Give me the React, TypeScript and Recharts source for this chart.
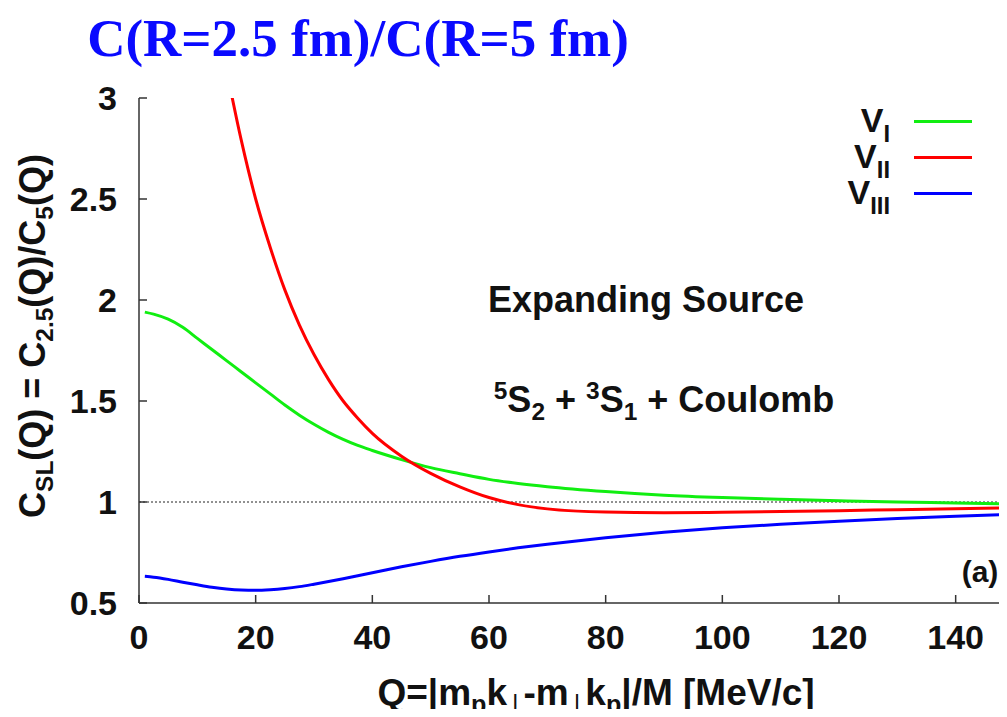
import React from 'react';
import { LineChart, Line, XAxis, YAxis, ReferenceLine } from 'recharts';

// Q grid [MeV/c] and the ratio C_2.5 / C_5 for each potential
const qValues = [1, 2.5, 5, 7.5, 10, 12.5, 15, 17.5, 20, 22.5, 25, 27.5, 30, 32.5, 35, 37.5, 40, 45, 50, 55, 60, 65, 70, 80, 90, 100, 110, 120, 130, 140, 150];
const vI = [1.94, 1.93, 1.905, 1.865, 1.81, 1.755, 1.7, 1.645, 1.59, 1.535, 1.48, 1.43, 1.385, 1.345, 1.31, 1.28, 1.255, 1.21, 1.17, 1.14, 1.112, 1.092, 1.076, 1.052, 1.034, 1.022, 1.013, 1.006, 1.0, 0.995, 0.99];
const vII = [null, null, null, null, null, null, 3.14, 2.795, 2.5, 2.26, 2.05, 1.876, 1.73, 1.606, 1.5, 1.415, 1.34, 1.227, 1.142, 1.075, 1.022, 0.987, 0.966, 0.95, 0.947, 0.949, 0.953, 0.957, 0.962, 0.967, 0.972];
const vIII = [0.632, 0.628, 0.617, 0.603, 0.59, 0.578, 0.569, 0.564, 0.563, 0.566, 0.572, 0.581, 0.593, 0.606, 0.62, 0.635, 0.65, 0.679, 0.706, 0.731, 0.753, 0.773, 0.791, 0.823, 0.85, 0.872, 0.89, 0.905, 0.918, 0.93, 0.94];

const xTicks = [0, 20, 40, 60, 80, 100, 120, 140];
const yTicks = [0.5, 1, 1.5, 2, 2.5, 3];

const series = [
  { key: 'vI', sub: 'I', color: '#11ee11' },
  { key: 'vII', sub: 'II', color: '#ff0000' },
  { key: 'vIII', sub: 'III', color: '#0000ff' },
];

const data = qValues.map((q, i) => ({ q, vI: vI[i], vII: vII[i], vIII: vIII[i] }));

const FONT = '"Liberation Sans", Arial, Helvetica, sans-serif';
const AXIS = '#333';

const BottomTick = (props: any) => {
  const { x, y, payload } = props;
  return (
    <g>
      <line x1={x} y1={y} x2={x} y2={y - 8} stroke={AXIS} strokeWidth={1.5} />
      <text x={x} y={y + 46} textAnchor="middle" fontFamily={FONT} fontWeight="bold" fontSize={34} fill="#111">
        {payload.value}
      </text>
    </g>
  );
};

const TopTick = (props: any) => {
  const { x, y } = props;
  return <line x1={x} y1={y} x2={x} y2={y + 8} stroke={AXIS} strokeWidth={1.5} />;
};

const LeftTick = (props: any) => {
  const { x, y, payload } = props;
  return (
    <g>
      <line x1={x} y1={y} x2={x + 8} y2={y} stroke={AXIS} strokeWidth={1.5} />
      <text x={x - 22} y={y + 12} textAnchor="end" fontFamily={FONT} fontWeight="bold" fontSize={34} fill="#111">
        {payload.value}
      </text>
    </g>
  );
};

const sub: React.CSSProperties = { fontSize: '0.68em', verticalAlign: '-0.32em', lineHeight: 0 };
const sup: React.CSSProperties = { fontSize: '0.68em', verticalAlign: '0.55em', lineHeight: 0 };
const bar: React.CSSProperties = { ...sub, fontWeight: 'normal', margin: '0 5px' };

const centered = (left: number, top: number, extra: React.CSSProperties = {}): React.CSSProperties => ({
  position: 'absolute',
  left,
  top,
  transform: 'translate(-50%, -50%)',
  whiteSpace: 'nowrap',
  fontFamily: FONT,
  fontWeight: 'bold',
  color: '#111',
  lineHeight: 1,
  ...extra,
});

export default function App() {
  return (
    <div style={{ position: 'relative', width: 999, height: 709, marginBottom: -8, overflow: 'hidden', background: '#fff' }}>
      <LineChart width={1040} height={700} data={data} margin={{ top: 90, right: 34, bottom: 0, left: 0 }}>
        <XAxis
          dataKey="q"
          type="number"
          domain={[0, 150]}
          ticks={xTicks}
          tick={<BottomTick />}
          tickSize={0}
          tickMargin={0}
          height={105}
          stroke={AXIS}
          strokeWidth={1.5}
          interval={0}
        />
        <XAxis
          xAxisId="top"
          dataKey="q"
          type="number"
          orientation="top"
          domain={[0, 150]}
          ticks={xTicks}
          tick={<TopTick />}
          tickSize={0}
          tickMargin={0}
          height={0}
          stroke={AXIS}
          strokeWidth={1.5}
          interval={0}
        />
        <YAxis
          type="number"
          domain={[0.5, 3]}
          allowDataOverflow
          ticks={yTicks}
          tick={<LeftTick />}
          tickSize={0}
          tickMargin={0}
          width={131}
          stroke={AXIS}
          strokeWidth={1.5}
          interval={0}
        />
        <ReferenceLine y={1} stroke="#222" strokeWidth={1} strokeDasharray="2 2" />
        {series.map((s) => (
          <Line
            key={s.key}
            dataKey={s.key}
            type="monotone"
            stroke={s.color}
            strokeWidth={3}
            dot={false}
            isAnimationActive={false}
          />
        ))}
      </LineChart>

      {/* title */}
      <div style={centered(350, 30, { fontFamily: '"Liberation Serif", "Times New Roman", serif', fontSize: 53, color: '#0a0aff' })}>
        C(R=2.5 fm)/C(R=5 fm)
      </div>

      {/* y axis title */}
      <div style={{ ...centered(25, 328, { fontSize: 36 }), transform: 'translate(-50%, -50%) rotate(-90deg)' }}>
        C<span style={sub}>SL</span>(Q) = C<span style={sub}>2.5</span>(Q)/C<span style={sub}>5</span>(Q)
      </div>

      {/* x axis title */}
      <div style={centered(588, 684, { fontSize: 37 })}>
        Q=|m<span style={sub}>p</span>k<span style={bar}>|</span>-m<span style={bar}>|</span>k<span style={sub}>p</span>|/M [MeV/c]
      </div>

      {/* annotations */}
      <div style={centered(638, 292, { fontSize: 36 })}>Expanding Source</div>
      <div style={centered(656, 392, { fontSize: 36 })}>
        <span style={sup}>5</span>S<span style={sub}>2</span> + <span style={sup}>3</span>S<span style={sub}>1</span> + Coulomb
      </div>
      <div style={centered(972, 564, { fontSize: 30 })}>(a)</div>

      {/* legend */}
      {series.map((s, i) => (
        <div key={s.key} style={{ position: 'absolute', top: 113 + i * 36 - 22, left: 0, width: 1000, height: 44 }}>
          <div
            style={{
              position: 'absolute',
              right: 1000 - 882,
              top: 4,
              fontFamily: FONT,
              fontWeight: 'bold',
              fontSize: 34,
              lineHeight: 1,
              color: '#111',
              whiteSpace: 'nowrap',
            }}
          >
            V<span style={{ ...sub, fontSize: '0.7em', verticalAlign: '-0.4em' }}>{s.sub}</span>
          </div>
          <div style={{ position: 'absolute', left: 906, top: 21, width: 58, height: 3, background: s.color }} />
        </div>
      ))}
    </div>
  );
}
